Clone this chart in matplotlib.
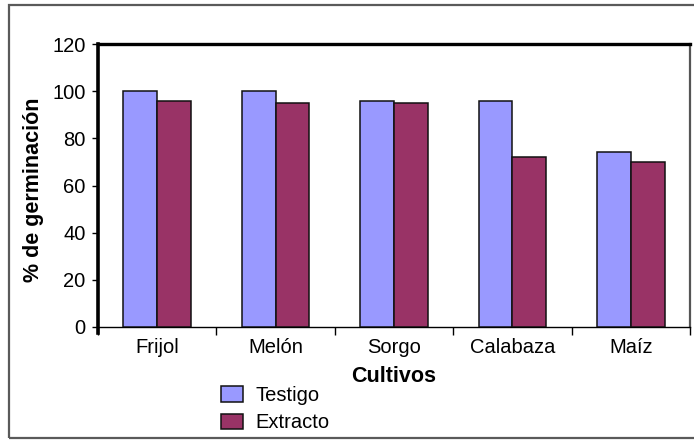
import matplotlib
matplotlib.use("Agg")
import matplotlib.pyplot as plt
from matplotlib.patches import Rectangle
import numpy as np

plt.rcParams['font.family'] = ['Liberation Sans', 'DejaVu Sans']

# Germination percentages per crop
cultivos = ["Frijol", "Melón", "Sorgo", "Calabaza", "Maíz"]
testigo = [100, 100, 96, 96, 74]
extracto = [96, 95, 95, 72, 70]
series_names = ["Testigo", "Extracto"]
yticks = [0, 20, 40, 60, 80, 100, 120]

W, H = 694, 441
fig = plt.figure(figsize=(W / 100, H / 100), dpi=100)
fig.patch.set_facecolor("white")

def fx(px):
    return px / W

def fy(py):
    return 1 - py / H

# outer chart frame
fig.add_artist(Rectangle((fx(9), fy(438)), fx(700) - fx(9), fy(5) - fy(438),
                         transform=fig.transFigure, fill=False,
                         edgecolor="#5a5a5a", linewidth=1.6))

ax = fig.add_axes([fx(98), fy(327), fx(690) - fx(98), fy(44) - fy(327)])

x = np.arange(len(cultivos))
bw = 0.285
b1 = ax.bar(x - bw / 2, testigo, bw, color="#9999FF", edgecolor="#111111",
            linewidth=1.1, label=series_names[0], zorder=3)
b2 = ax.bar(x + bw / 2, extracto, bw, color="#993366", edgecolor="#111111",
            linewidth=1.1, label=series_names[1], zorder=3)

ax.set_xlim(-0.5, len(cultivos) - 0.5)
ax.set_ylim(0, 120)

# spines
ax.spines['left'].set_linewidth(2.6)
ax.spines['left'].set_color("black")
ax.spines['left'].set_bounds(-2.5, 120)
ax.spines['top'].set_linewidth(2.4)
ax.spines['top'].set_color("black")
ax.spines['right'].set_linewidth(1.6)
ax.spines['right'].set_color("#555555")
ax.spines['bottom'].set_linewidth(1.0)
ax.spines['bottom'].set_color("black")

# y axis
ax.set_yticks(yticks)
ax.set_yticklabels([str(v) for v in yticks], fontsize=14.5)
ax.tick_params(axis='y', direction='out', length=4, width=1, pad=5, colors='black')

# x axis: ticks at category boundaries, labels at centres
ax.set_xticks(np.arange(-0.5, len(cultivos), 1.0))
ax.set_xticklabels([])
ax.tick_params(axis='x', which='major', direction='out', length=6, width=1)
ax.set_xticks(x, minor=True)
ax.set_xticklabels(cultivos, minor=True, fontsize=14.5)
ax.tick_params(axis='x', which='minor', length=0, pad=8)

ax.set_xlabel("Cultivos", fontsize=15.5, fontweight='bold', va='center')
ax.xaxis.set_label_coords(0.5, (327 - 376) / (327 - 44))
ax.set_ylabel("% de germinación", fontsize=15.5, fontweight='bold', va='center')
ax.yaxis.set_label_coords((34 - 98) / (690 - 98), (327 - 190) / (327 - 44))

fig.legend(handles=[b1, b2], labels=series_names, loc='upper left',
           bbox_to_anchor=(fx(221), fy(386)), frameon=False, fontsize=14.5,
           handlelength=1.1, handleheight=0.78, handletextpad=0.6,
           labelspacing=0.42, borderpad=0, borderaxespad=0)

fig.savefig("out.png", dpi=100)
